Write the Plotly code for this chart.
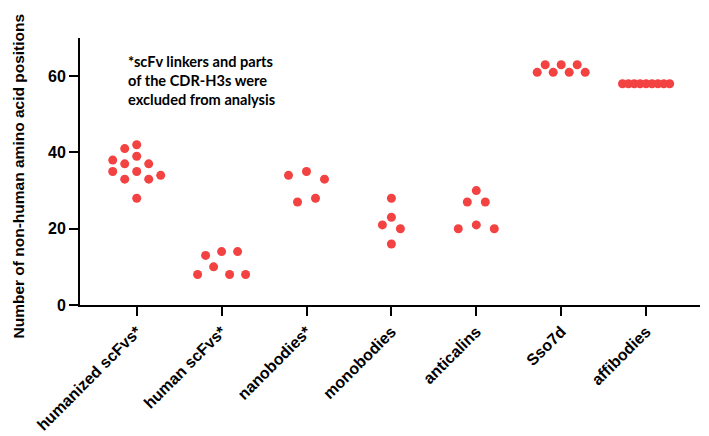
import math
import plotly.graph_objects as go

# ---------------- data ----------------
categories = ["humanized scFvs*", "human scFvs*", "nanobodies*", "monobodies",
              "anticalins", "Sso7d", "affibodies"]
humanized_scfvs = [28, 35, 33, 35, 33, 34, 38, 37, 39, 37, 41, 42]
human_scfvs = [8, 10, 8, 8, 13, 14, 14]
nanobodies = [27, 28, 34, 35, 33]
monobodies = [16, 21, 20, 23, 28]
anticalins = [20, 21, 20, 27, 27, 30]
sso7d = [61, 61, 61, 61, 63, 63, 63]
affibodies = [58, 58, 58, 58, 58, 58, 58, 58, 58]
y_ticks = [0, 20, 40, 60]
note_lines = ["*scFv linkers and parts", "of the CDR-H3s were", "excluded from analysis"]
y_title = "Number of non-human amino acid positions"

groups = [humanized_scfvs, human_scfvs, nanobodies, monobodies, anticalins, sso7d, affibodies]

# ---------------- layout / style parameters ----------------
# the page body adds an 8px margin, so the figure is made 8px smaller
BODY = 8
W, H = 709 - BODY, 436 - BODY
M_L, M_T = 80 - BODY, 38 - BODY
PLOT_W, PLOT_H = 620, 267
M_R = W - M_L - PLOT_W
M_B = H - M_T - PLOT_H
X_RANGE = [-0.668, 6.635]
Y_RANGE = [0, 70]
SPACING_PX = [12, 16, 18, 18, 18, 16, 5.9]   # horizontal spacing of dots in a row
QUANTUM_PX = [12, 8, 9, 9, 9, 8, 2.95]       # horizontal lattice of the scatter
ROW_HEIGHT = 3                                 # value range grouped into one row
MAX_ROW_SPAN_PX = 56
RED = "rgb(243,66,66)"
NOTE_Y_PAGE = [60, 79, 98]
TITLE_Y_PAGE = 176

px_per_cat = PLOT_W / (X_RANGE[1] - X_RANGE[0])


def swarm_offsets(values, spacing, quantum):
    """GraphPad-like column scatter: group close values into rows, centre rows."""
    order = sorted(range(len(values)), key=lambda i: values[i])
    rows = []
    for i in order:
        v = values[i]
        if rows:
            row = rows[-1]
            start = values[row[0]]
            span = len(row) * spacing
            same_val = v == values[row[-1]]
            if v - start < ROW_HEIGHT and (span <= MAX_ROW_SPAN_PX or same_val):
                row.append(i)
                continue
        rows.append([i])
    offs = [0.0] * len(values)
    for row in rows:
        r = sorted(row)
        n = len(r)
        for k, i in enumerate(r):
            o = (k - (n - 1) / 2) * spacing
            o = math.floor(o / quantum + 1e-6) * quantum
            offs[i] = o
    return offs


fig = go.Figure()
xs, ys = [], []
for gi, vals in enumerate(groups):
    offs = swarm_offsets(vals, SPACING_PX[gi], QUANTUM_PX[gi])
    for v, o in zip(vals, offs):
        xs.append(gi + o / px_per_cat)
        ys.append(v)

fig.add_trace(go.Scatter(
    x=xs, y=ys, mode="markers",
    marker=dict(size=9, color=RED, line=dict(width=0)),
    showlegend=False, hoverinfo="y",
))

ARIAL = "Liberation Sans, Arial, sans-serif"

annotations = [
    dict(
        text="<b>%s</b>" % y_title,
        xref="paper", yref="paper", x=(BODY - 80) / PLOT_W, y=(305 - TITLE_Y_PAGE) / PLOT_H,
        xanchor="left", yanchor="middle", textangle=-90, showarrow=False,
        font=dict(family=ARIAL, size=15.5, color="black"),
    )
]
for line, yp in zip(note_lines, NOTE_Y_PAGE):
    annotations.append(dict(
        text="<b>%s</b>" % line,
        xref="paper", yref="paper", x=(126 - 80) / PLOT_W, y=(305 - yp - 1) / PLOT_H,
        xanchor="left", yanchor="middle", align="left", showarrow=False,
        font=dict(family="Lato, Carlito, sans-serif", size=14.6, color="black"),
    ))

fig.update_layout(
    width=W, height=H,
    margin=dict(l=M_L, r=M_R, t=M_T, b=M_B, pad=0, autoexpand=False),
    paper_bgcolor="white", plot_bgcolor="white",
    showlegend=False,
    font=dict(family=ARIAL),
    xaxis=dict(
        range=X_RANGE, tickmode="array", tickvals=list(range(len(categories))),
        ticktext=["<b>%s</b>" % c for c in categories],
        tickangle=-45, tickfont=dict(family=ARIAL, size=16, color="black"),
        showline=True, linewidth=2, linecolor="black",
        ticks="outside", ticklen=9, tickwidth=2, tickcolor="black",
        showgrid=False, zeroline=False, automargin=False,
    ),
    yaxis=dict(
        range=Y_RANGE, tickmode="array", tickvals=y_ticks,
        ticktext=["<b>%d</b>" % t for t in y_ticks],
        tickfont=dict(family=ARIAL, size=16, color="black"),
        showline=True, linewidth=2, linecolor="black",
        ticks="outside", ticklen=9, tickwidth=2, tickcolor="black",
        showgrid=False, zeroline=False, automargin=False,
    ),
    annotations=annotations,
)

fig.write_html("out.html")
